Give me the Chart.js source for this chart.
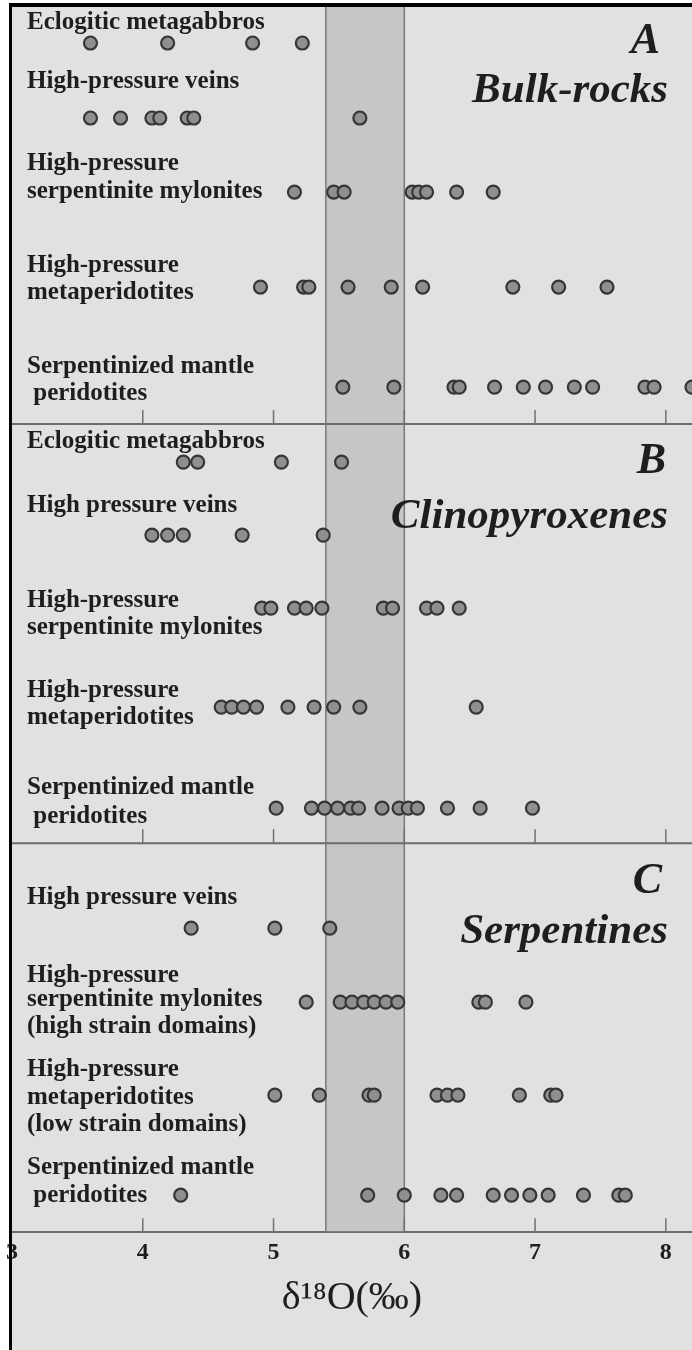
<!DOCTYPE html>
<html>
<head>
<meta charset="utf-8">
<script src="https://cdn.jsdelivr.net/npm/chart.js@4.4.1/dist/chart.umd.min.js"></script>
<style>
html,body{margin:0;padding:0;background:#ffffff;}
#wrap{position:relative;width:692px;height:1350px;}
canvas{display:block;}
</style>
</head>
<body>
<div id="wrap"><canvas id="chart" width="692" height="1350"></canvas></div>
<script>
// ---------- DATA (δ18O ‰ values) ----------
const xTickValues = [3, 4, 5, 6, 7, 8];
const mantleBand = [5.4, 6.0];
const panelLetters = ["A", "B", "C"];
const panelTitles = ["Bulk-rocks", "Clinopyroxenes", "Serpentines"];

// Panel A – bulk rocks
const bulkCategories = [
  ["Eclogitic metagabbros"],
  ["High-pressure veins"],
  ["High-pressure", "serpentinite mylonites"],
  ["High-pressure", "metaperidotites"],
  ["Serpentinized mantle", " peridotites"]
];
const bulkEclogiticMetagabbros = [3.60, 4.19, 4.84, 5.22];
const bulkHPVeins = [3.60, 3.83, 4.07, 4.13, 4.34, 4.39, 5.66];
const bulkHPSerpMylonites = [5.16, 5.46, 5.54, 6.06, 6.11, 6.17, 6.40, 6.68];
const bulkHPMetaperidotites = [4.90, 5.23, 5.27, 5.57, 5.90, 6.14, 6.83, 7.18, 7.55];
const bulkSerpMantlePeridotites = [5.53, 5.92, 6.38, 6.42, 6.69, 6.91, 7.08, 7.30, 7.44, 7.84, 7.91, 8.20];

// Panel B – clinopyroxenes
const cpxCategories = [
  ["Eclogitic metagabbros"],
  ["High pressure veins"],
  ["High-pressure", "serpentinite mylonites"],
  ["High-pressure", "metaperidotites"],
  ["Serpentinized mantle", " peridotites"]
];
const cpxEclogiticMetagabbros = [4.31, 4.42, 5.06, 5.52];
const cpxHPVeins = [4.07, 4.19, 4.31, 4.76, 5.38];
const cpxHPSerpMylonites = [4.91, 4.98, 5.16, 5.25, 5.37, 5.84, 5.91, 6.17, 6.25, 6.42];
const cpxHPMetaperidotites = [4.60, 4.68, 4.77, 4.87, 5.11, 5.31, 5.46, 5.66, 6.55];
const cpxSerpMantlePeridotites = [5.02, 5.29, 5.39, 5.49, 5.59, 5.65, 5.83, 5.96, 6.03, 6.10, 6.33, 6.58, 6.98];

// Panel C – serpentines
const serpCategories = [
  ["High pressure veins"],
  ["High-pressure", "serpentinite mylonites", "(high strain domains)"],
  ["High-pressure", "metaperidotites", "(low strain domains)"],
  ["Serpentinized mantle", " peridotites"]
];
const serpHPVeins = [4.37, 5.01, 5.43];
const serpHPSerpMylonites = [5.25, 5.51, 5.60, 5.69, 5.77, 5.86, 5.95, 6.57, 6.62, 6.93];
const serpHPMetaperidotites = [5.01, 5.35, 5.73, 5.77, 6.25, 6.33, 6.41, 6.88, 7.12, 7.16];
const serpSerpMantlePeridotites = [4.29, 5.72, 6.00, 6.28, 6.40, 6.68, 6.82, 6.96, 7.10, 7.37, 7.64, 7.69];

const bulkSeries = [bulkEclogiticMetagabbros, bulkHPVeins, bulkHPSerpMylonites, bulkHPMetaperidotites, bulkSerpMantlePeridotites];
const cpxSeries = [cpxEclogiticMetagabbros, cpxHPVeins, cpxHPSerpMylonites, cpxHPMetaperidotites, cpxSerpMantlePeridotites];
const serpSeries = [serpHPVeins, serpHPSerpMylonites, serpHPMetaperidotites, serpSerpMantlePeridotites];

// ---------- LAYOUT (vertical row slots on a hidden y scale) ----------
const LAYOUT = {
  yMax: 1226,
  separators: [418, 837],
  rows: [[37, 112, 186, 281, 381], [456, 529, 602, 701, 802], [922, 996, 1089, 1189]],
  labelLines: [
    [[17], [76], [158, 186], [260, 287], [361, 388]],
    [[436], [500], [595, 622], [685, 712], [782, 811]],
    [[892], [970, 994, 1021], [1064, 1092, 1119], [1162, 1190]]
  ],
  letterBase: [47, 467, 887],
  titleBase: [96, 522, 937],
  letterRight: [660, 666, 662],
  titleRight: 668,
  labelX: 27
};

const SERIF = "'Liberation Serif', 'Times New Roman', 'DejaVu Serif', serif";
const categoriesByPanel = [bulkCategories, cpxCategories, serpCategories];
const seriesByPanel = [bulkSeries, cpxSeries, serpSeries];

const datasets = [];
seriesByPanel.forEach((series, p) => {
  series.forEach((vals, r) => {
    datasets.push({
      label: panelTitles[p] + " – " + categoriesByPanel[p][r].join(" ").replace(/\s+/g, " ").trim(),
      data: vals.map(v => ({ x: v, y: LAYOUT.rows[p][r] })),
      showLine: false,
      pointRadius: 6.5,
      pointHoverRadius: 6.5,
      pointBackgroundColor: "#8f8f8f",
      pointBorderColor: "#363636",
      pointBorderWidth: 2.2
    });
  });
});

const px = (chart, v) => chart.scales.x.getPixelForValue(v);
const py = (chart, v) => chart.scales.y.getPixelForValue(v);

const decor = {
  id: "decor",
  beforeDraw(chart) {
    const { ctx, width, height } = chart;
    ctx.save();
    ctx.fillStyle = "#ffffff";
    ctx.fillRect(0, 0, width, height);
    ctx.fillStyle = "#e1e1e1";
    ctx.fillRect(10, 4, width - 10, height - 4);
    ctx.restore();
  },
  beforeDatasetsDraw(chart) {
    const { ctx, chartArea: a } = chart;
    const x0 = px(chart, mantleBand[0]);
    const x1 = px(chart, mantleBand[1]);
    ctx.save();
    ctx.fillStyle = "#c6c6c6";
    ctx.fillRect(x0, a.top, x1 - x0, a.bottom - a.top - 1);
    ctx.strokeStyle = "#787878";
    ctx.lineWidth = 1.5;
    [x0, x1].forEach(x => {
      ctx.beginPath(); ctx.moveTo(x, a.top); ctx.lineTo(x, a.bottom); ctx.stroke();
    });
    ctx.strokeStyle = "#6c6c6c";
    ctx.lineWidth = 2;
    LAYOUT.separators.forEach(s => {
      const y = py(chart, s);
      ctx.beginPath(); ctx.moveTo(a.left, y); ctx.lineTo(a.right, y); ctx.stroke();
    });
    ctx.strokeStyle = "#727272";
    ctx.lineWidth = 1.5;
    [...LAYOUT.separators, LAYOUT.yMax].forEach(s => {
      const y = py(chart, s);
      xTickValues.slice(1).forEach(v => {
        const x = px(chart, v);
        ctx.beginPath(); ctx.moveTo(x, y); ctx.lineTo(x, y - 14); ctx.stroke();
      });
    });
    ctx.restore();
  },
  afterDatasetsDraw(chart) {
    const { ctx, width, height } = chart;
    ctx.save();
    ctx.fillStyle = "#1e1e1e";
    ctx.textAlign = "left";
    ctx.textBaseline = "alphabetic";
    ctx.font = "bold 25px " + SERIF;
    categoriesByPanel.forEach((cats, p) => {
      cats.forEach((lines, r) => {
        lines.forEach((t, i) => {
          ctx.fillText(t, LAYOUT.labelX, py(chart, LAYOUT.labelLines[p][r][i]) + 6);
        });
      });
    });
    ctx.textAlign = "right";
    panelLetters.forEach((L, p) => {
      ctx.font = "italic bold 44px " + SERIF;
      ctx.fillText(L, LAYOUT.letterRight[p], py(chart, LAYOUT.letterBase[p]));
      ctx.font = "italic bold 43px " + SERIF;
      ctx.fillText(panelTitles[p], LAYOUT.titleRight, py(chart, LAYOUT.titleBase[p]));
    });
    // frame
    ctx.fillStyle = "#000000";
    ctx.fillRect(9, 3, 3, height - 3);
    ctx.fillRect(9, 3, width - 9, 4);
    ctx.restore();
  }
};

new Chart(document.getElementById("chart"), {
  type: "scatter",
  data: { datasets },
  options: {
    responsive: false,
    devicePixelRatio: 1,
    animation: false,
    layout: { autoPadding: false, padding: { left: 11, right: 0, top: 6, bottom: 28 } },
    plugins: { legend: { display: false }, tooltip: { enabled: false } },
    scales: {
      x: {
        type: "linear",
        min: 3,
        max: 8.2,
        afterBuildTicks: s => { s.ticks = xTickValues.map(v => ({ value: v })); },
        grid: { display: false, drawTicks: false },
        border: { display: true, color: "#6c6c6c", width: 2 },
        ticks: {
          autoSkip: false,
          maxRotation: 0,
          padding: 6,
          color: "#1e1e1e",
          font: { family: SERIF, size: 24, weight: "bold" }
        },
        title: {
          display: true,
          text: "δ¹⁸O(‰)",
          color: "#1e1e1e",
          font: { family: SERIF, size: 40, weight: "normal" },
          padding: { top: 1, bottom: 0 }
        }
      },
      y: {
        type: "linear",
        display: false,
        min: 0,
        max: LAYOUT.yMax,
        reverse: true
      }
    }
  },
  plugins: [decor]
});
</script>
</body>
</html>
